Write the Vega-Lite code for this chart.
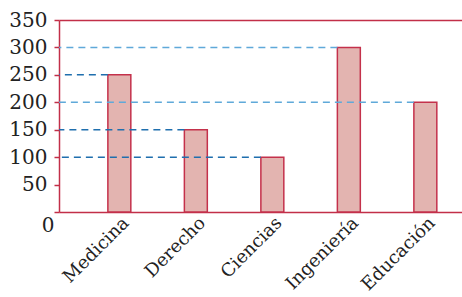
{
  "$schema": "https://vega.github.io/schema/vega-lite/v6.json",
  "autosize": "none",
  "width": 403,
  "height": 192,
  "padding": {"left": 59, "top": 20, "right": 0, "bottom": 85},
  "background": "white",
  "config": {"view": {"stroke": null}},
  "data": {"values": [
    {"carrera": "Medicina", "n": 250},
    {"carrera": "Derecho", "n": 150},
    {"carrera": "Ciencias", "n": 100},
    {"carrera": "Ingeniería", "n": 300},
    {"carrera": "Educación", "n": 200}
  ]},
  "encoding": {
    "y": {
      "field": "n", "type": "quantitative",
      "scale": {"domain": [0, 350], "nice": false},
      "axis": {
        "title": null,
        "values": [0, 50, 100, 150, 200, 250, 300, 350],
        "domainColor": "#c22f48", "domainWidth": 1.5,
        "tickColor": "#c22f48", "tickWidth": 1.5, "tickSize": 5,
        "labelFont": "DejaVu Serif", "labelFontSize": 20, "labelColor": "#222222",
        "labelPadding": {"condition": {"test": "datum.value === 0", "value": 0}, "value": 7},
        "labelOffset": {"condition": {"test": "datum.value === 0", "value": 13}, "value": 0},
        "grid": true,
        "gridColor": "#c22f48", "gridWidth": 1.5,
        "gridOpacity": {"condition": {"test": "datum.value === 350", "value": 1}, "value": 0}
      }
    }
  },
  "layer": [
    {
      "mark": {"type": "bar", "fill": "#e3b4b0", "stroke": "#c4314b", "strokeWidth": 1.5},
      "encoding": {
        "x": {
          "field": "carrera", "type": "nominal", "sort": null,
          "scale": {"paddingInner": 0.7, "paddingOuter": 0.484, "align": 0.66},
          "axis": {
            "title": null,
            "domainColor": "#c22f48", "domainWidth": 1.5,
            "ticks": false,
            "labelAngle": -45, "labelAlign": "right", "labelBaseline": "middle",
            "labelFont": "DejaVu Serif", "labelFontSize": 18, "labelColor": "#222222",
            "labelPadding": 8, "labelOffset": 7
          }
        }
      }
    },
    {
      "mark": {"type": "rule", "strokeDash": [7, 5], "strokeWidth": 1.5},
      "encoding": {
        "x": {"field": "carrera", "type": "nominal", "sort": null, "bandPosition": 0},
        "x2": {"value": 0},
        "color": {
          "condition": {"test": "datum.n === 300 || datum.n === 200", "value": "#5fa9d9"},
          "value": "#1f6fae"
        }
      }
    }
  ]
}
